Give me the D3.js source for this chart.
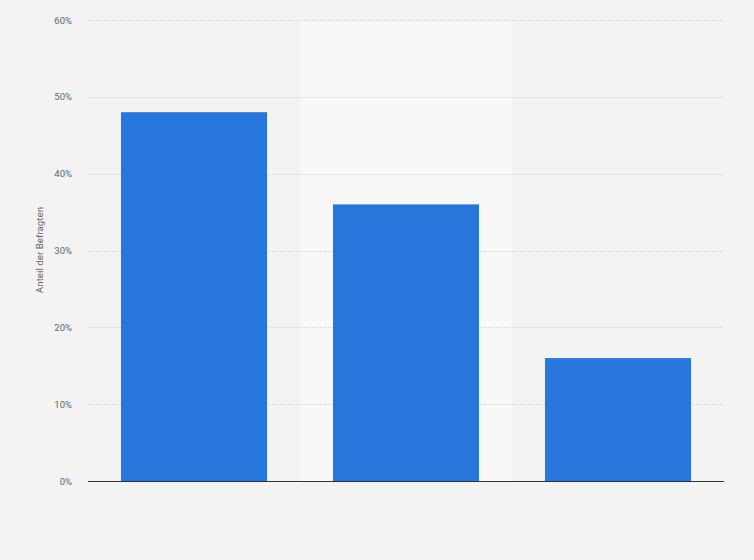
<!DOCTYPE html>
<html><head><meta charset="utf-8">
<script src="https://cdn.jsdelivr.net/npm/d3@7/dist/d3.min.js"></script>
<style>html,body{margin:0;padding:0;background:#f3f3f3;}</style>
</head><body>
<svg id="c" width="754" height="560"></svg>
<script>
const categories = ["A", "B", "C"];
const values = [48, 36, 16];
const yTicks = [0, 10, 20, 30, 40, 50, 60];
const yTitle = "Anteil der Befragten";

const svg = d3.select("#c");
const m = {l: 88, r: 30, t: 20, b: 79};
const W = 754, H = 560;
svg.append("rect").attr("width", W).attr("height", H).attr("fill", "#f3f3f3");

const x = d3.scaleBand().domain(categories).range([m.l, W - m.r]).paddingInner(0.311).paddingOuter(0.1555);
const bandX = d3.scaleBand().domain(categories).range([m.l, W - m.r]);
const y = d3.scaleLinear().domain([0, 60]).range([H - m.b, m.t]);

// alternating column background
svg.selectAll(".colbg").data(categories.filter((d, i) => i % 2 === 1)).enter().append("rect")
  .attr("x", d => bandX(d)).attr("y", m.t).attr("width", bandX.bandwidth())
  .attr("height", y(0) - m.t).attr("fill", "#f8f8f8");

// gridlines
svg.selectAll(".grid").data(yTicks.filter(t => t > 0)).enter().append("line")
  .attr("x1", m.l).attr("x2", W - m.r).attr("y1", d => Math.round(y(d)) + 0.5).attr("y2", d => Math.round(y(d)) + 0.5)
  .attr("stroke", "#d6d6d6").attr("stroke-width", 1).attr("stroke-dasharray", "1,1");

// y axis labels
const ya = svg.append("g").attr("transform", `translate(${m.l},0)`)
  .call(d3.axisLeft(y).tickValues(yTicks).tickFormat(d => d + "%").tickSize(0).tickPadding(16));
ya.select(".domain").remove();
ya.selectAll("text").attr("fill", "#666").attr("font-size", "9.5px").attr("font-family", "Roboto, Arial, sans-serif");

// bars
svg.selectAll(".bar").data(values).enter().append("rect")
  .attr("x", (d, i) => x(categories[i])).attr("width", x.bandwidth())
  .attr("y", d => y(d)).attr("height", d => y(0) - y(d))
  .attr("fill", "#2776db");

// baseline
svg.append("line").attr("x1", m.l).attr("x2", W - m.r).attr("y1", y(0) + 0.5).attr("y2", y(0) + 0.5)
  .attr("stroke", "#333").attr("stroke-width", 1.2);

// y title
svg.append("text").attr("transform", `translate(43,250) rotate(-90)`)
  .attr("text-anchor", "middle").attr("fill", "#666").attr("font-size", "9.8px")
  .attr("font-family", "Roboto, Arial, sans-serif").text(yTitle);
</script>
</body></html>
